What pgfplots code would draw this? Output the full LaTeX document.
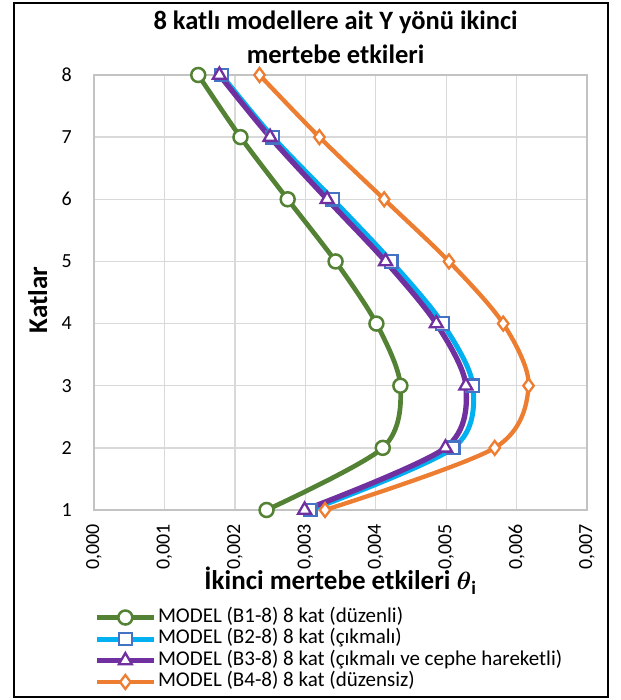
\documentclass[border=0pt]{standalone}
\usepackage{pgfplots}
\pgfplotsset{compat=1.18}
\usepackage{amsmath}
\usepackage{fontspec}
\setmainfont{Carlito}

\definecolor{cGreen}{RGB}{84,130,53}
\definecolor{cCyan}{RGB}{0,176,240}
\definecolor{cBlue}{RGB}{68,114,196}
\definecolor{cPurple}{RGB}{112,48,160}
\definecolor{cOrange}{RGB}{237,125,49}
\definecolor{cGrid}{RGB}{217,217,217}

\begin{document}
\begin{tikzpicture}
\useasboundingbox (0,0) rectangle (620pt,700pt);
\draw[line width=1.3pt] (14pt,3pt) rectangle (608pt,697pt);
\begin{axis}[
  at={(94pt,190pt)}, anchor=south west,
  scale only axis, width=493pt, height=435pt,
  xmin=0, xmax=0.007, ymin=1, ymax=8,
  xtick={0,0.001,0.002,0.003,0.004,0.005,0.006,0.007},
  ytick={1,2,3,4,5,6,7,8},
  scaled x ticks=false,
  xticklabel style={/pgf/number format/fixed, /pgf/number format/fixed zerofill,
    /pgf/number format/precision=3, /pgf/number format/use comma},
  /pgf/number format/assume math mode=true,
  ticklabel style={font=\fontsize{20}{24}\selectfont, inner sep=0pt},
  xticklabel style={rotate=90, anchor=east},
  xticklabel shift=14pt,
  yticklabel shift=22pt,
  major tick length=0pt,
  grid=major,
  major grid style={draw=cGrid, line width=1.3pt},
  axis line style={draw=cGrid!90!black, line width=1.3pt},
  clip=false,
  title={8 katlı modellere ait Y yönü ikinci\\mertebe etkileri},
  title style={at={(axis description cs:0.49,1.073)}, anchor=center, align=center,
    font=\bfseries\fontsize{26.5}{34}\selectfont},
  xlabel={İkinci mertebe etkileri $\boldsymbol{\theta}_{\mathbf{i}}$},
  xlabel style={at={(axis description cs:0.5,-0.163)}, anchor=center,
    font=\bfseries\fontsize{27}{30}\selectfont},
  ylabel={Katlar},
  ylabel style={at={(axis description cs:-0.114,0.483)}, anchor=center,
    font=\bfseries\fontsize{27}{30}\selectfont},
  legend style={at={(axis description cs:0.0,-0.222)}, anchor=north west,
    draw=none, fill=none, inner sep=0pt, row sep=0pt,
    font=\fontsize{21}{22}\selectfont,
    nodes={text height=14pt, text depth=4.5pt, inner sep=1.5pt}},
  legend cell align=left,
  legend image code/.code={\draw[mark repeat=2,mark phase=2]
    plot coordinates {(0pt,0pt)(28.5pt,0pt)(57pt,0pt)};},
]
\addplot[smooth, cGreen, line width=4.7pt, mark=*,
  mark options={fill=white, draw=cGreen, line width=2.5pt, mark size=7pt}]
  coordinates {(0.00245,1)(0.00410,2)(0.00435,3)(0.00401,4)(0.00343,5)(0.00275,6)(0.00208,7)(0.00148,8)};
\addlegendentry{MODEL (B1-8) 8 kat (düzenli)}
\addplot[smooth, cCyan, line width=5pt, mark=square*,
  mark options={fill=white, draw=cBlue, line width=2.3pt, mark size=6.3pt}]
  coordinates {(0.00307,1)(0.00510,2)(0.00538,3)(0.00495,4)(0.00422,5)(0.00339,6)(0.00254,7)(0.00181,8)};
\addlegendentry{MODEL (B2-8) 8 kat (çıkmalı)}
\addplot[smooth, cPurple, line width=5.3pt, mark=triangle*,
  mark options={fill=white, draw=cPurple, line width=2.3pt, mark size=7.5pt}]
  coordinates {(0.00299,1)(0.00499,2)(0.00528,3)(0.00486,4)(0.00414,5)(0.00331,6)(0.00250,7)(0.00178,8)};
\addlegendentry{MODEL (B3-8) 8 kat (çıkmalı ve cephe hareketli)}
\addplot[smooth, cOrange, line width=4.3pt, mark=diamond*,
  mark options={fill=white, draw=cOrange, line width=2.3pt, mark size=7pt}]
  coordinates {(0.00328,1)(0.00569,2)(0.00617,3)(0.00581,4)(0.00504,5)(0.00412,6)(0.00320,7)(0.00235,8)};
\addlegendentry{MODEL (B4-8) 8 kat (düzensiz)}
\end{axis}
\end{tikzpicture}
\end{document}
